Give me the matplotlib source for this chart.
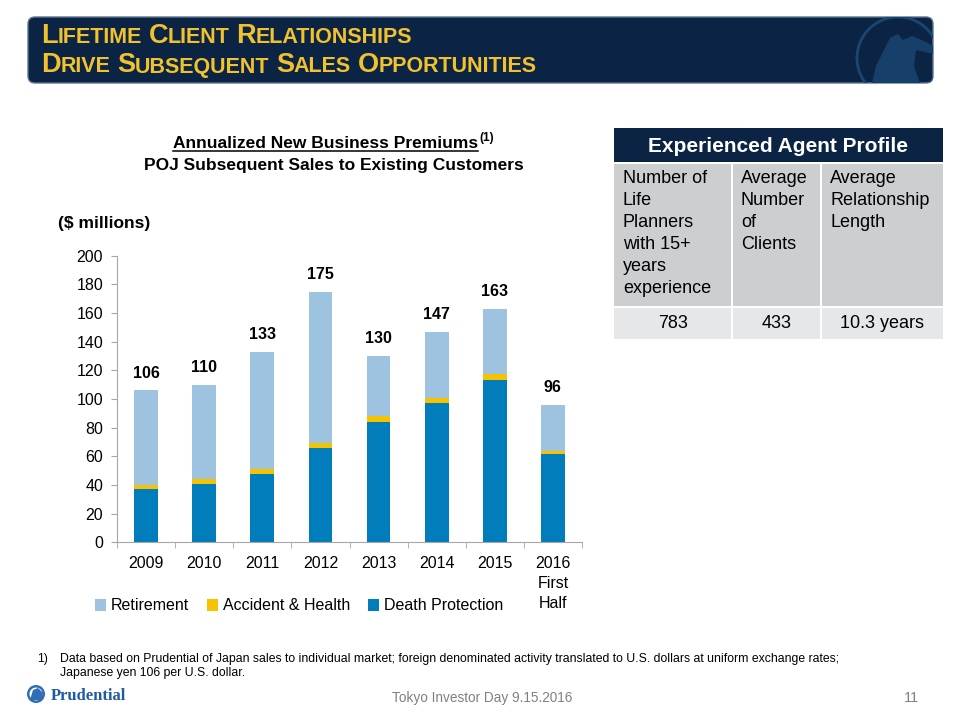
import matplotlib
matplotlib.use('Agg')
import matplotlib.pyplot as plt
from matplotlib.patches import FancyBboxPatch, Rectangle, Circle, Polygon
from matplotlib.lines import Line2D
import numpy as np

plt.rcParams['font.family'] = ['Liberation Sans', 'DejaVu Sans']

# chart data ($ millions)
years = ['2009', '2010', '2011', '2012', '2013', '2014', '2015', '2016\nFirst\nHalf']
death_protection = [37, 41, 48, 65.5, 84, 97, 113, 61.5]
accident_health = [3, 3, 3.5, 3.5, 4, 4, 4.5, 2.5]
retirement = [66, 66, 81.5, 106, 42, 46, 45.5, 32]
totals = [106, 110, 133, 175, 130, 147, 163, 96]

# table data
table_title = 'Experienced Agent Profile'
table_headers = ['Number of\nLife\nPlanners\nwith 15+\nyears\nexperience',
                 'Average\nNumber\nof\nClients',
                 'Average\nRelationship\nLength']
table_values = ['783', '433', '10.3 years']

NAVY = '#0B2444'
GOLD = '#F2C12E'
C_RET = '#9DC3E0'
C_AH = '#F7C200'
C_DP = '#007DBA'

W, H = 960, 720
fig = plt.figure(figsize=(9.6, 7.2), dpi=100)


def fx(x):
    return x / W


def fy(y):
    return 1 - y / H


bg = fig.add_axes([0, 0, 1, 1])
bg.set_xlim(0, W)
bg.set_ylim(H, 0)
bg.axis('off')

# header banner
banner = FancyBboxPatch((28, 17), 905, 66, boxstyle='round,pad=0,rounding_size=7',
                        facecolor=NAVY, edgecolor='#5E7590', linewidth=1.0)
bg.add_patch(banner)
ring = Circle((898, 58), 41, facecolor='none', edgecolor='#1A4673', linewidth=2)
bg.add_patch(ring)
ring.set_clip_path(banner)
rock = Polygon([(872, 83), (876, 66), (884, 50), (890, 38), (898, 34), (903, 40),
                (912, 36), (926, 42), (933, 46), (933, 54), (916, 50), (914, 66),
                (920, 83)],
               closed=True, facecolor='#163F69', edgecolor='none')
bg.add_patch(rock)
rock.set_clip_path(banner)

renderer = fig.canvas.get_renderer()


def small_caps(x, y, text, big, small, color):
    for i, word in enumerate(text.split(' ')):
        if i:
            x += small * 1.389 * 0.30
        t = bg.text(x, y, word[0], fontsize=big, fontweight='bold', color=color,
                    va='baseline', ha='left')
        x += t.get_window_extent(renderer).width
        t = bg.text(x, y, word[1:].upper(), fontsize=small, fontweight='bold', color=color,
                    va='baseline', ha='left')
        x += t.get_window_extent(renderer).width


small_caps(41, 43, 'Lifetime Client Relationships', 19.5, 15.5, GOLD)
small_caps(41, 72.5, 'Drive Subsequent Sales Opportunities', 19.5, 15.5, GOLD)

# chart titles
t1 = bg.text(173, 148, 'Annualized New Business Premiums', fontsize=12.5, fontweight='bold',
             va='baseline', ha='left')
ext = t1.get_window_extent(renderer)
bg.text(173 + ext.width + 1, 141, '(1)', fontsize=8.5, fontweight='bold',
        va='baseline', ha='left')
bg.add_line(Line2D([173, 173 + ext.width], [150.5, 150.5], color='black', linewidth=1.1))
bg.text(334, 170, 'POJ Subsequent Sales to Existing Customers', fontsize=12.5,
        fontweight='bold', va='baseline', ha='center')
bg.text(58, 228, '($ millions)', fontsize=12.5, fontweight='bold', va='baseline', ha='left')

# bar chart
ax = fig.add_axes([fx(117), fy(542.3), fx(582) - fx(117), fy(255.7) - fy(542.3)])
x = np.arange(len(years))
bw = 0.41
dp = np.array(death_protection)
ah = np.array(accident_health)
rt = np.array(retirement)
ax.bar(x, dp, bw, color=C_DP, label='Death Protection', zorder=2)
ax.bar(x, ah, bw, bottom=dp, color=C_AH, label='Accident & Health', zorder=2)
ax.bar(x, rt, bw, bottom=dp + ah, color=C_RET, label='Retirement', zorder=2)
for xi, tot in zip(x, totals):
    ax.annotate(str(tot), (xi, tot), xytext=(0, 7), textcoords='offset points',
                ha='center', va='bottom', fontsize=11.5, fontweight='bold')

ax.set_xlim(-0.5, len(years) - 0.5)
ax.set_ylim(0, 200)
ax.set_yticks(range(0, 201, 20))
ax.set_xticks(x)
ax.set_xticklabels(years, fontsize=11.5, linespacing=1.4)
ax.set_xticks(np.arange(-0.5, len(years), 1), minor=True)
ax.tick_params(axis='x', which='major', length=0, pad=10)
ax.tick_params(axis='x', which='minor', length=4, color='#A6A6A6', direction='out')
ax.tick_params(axis='y', length=4, color='#A6A6A6', labelsize=11.5, pad=6)
for side in ['top', 'right']:
    ax.spines[side].set_visible(False)
for side in ['left', 'bottom']:
    ax.spines[side].set_color('#A6A6A6')

handles, labels = ax.get_legend_handles_labels()
order = [2, 1, 0]
fig.legend([handles[i] for i in order], [labels[i] for i in order],
           loc='center left', bbox_to_anchor=(fx(95), fy(606)), ncol=3, frameon=False,
           fontsize=11.5, handlelength=0.7, handleheight=0.7, handletextpad=0.3,
           columnspacing=1.1, borderaxespad=0, borderpad=0)

# agent profile table
cols = [614, 732, 821, 943]
bg.add_patch(Rectangle((614, 128), 329, 34, facecolor=NAVY, edgecolor='none'))
bg.text((614 + 943) / 2, 146, table_title, fontsize=15, fontweight='bold', color='white',
        ha='center', va='center')
for i in range(3):
    x0, x1 = cols[i] + 1, cols[i + 1] - 1
    if i == 0:
        x0 = cols[0]
    if i == 2:
        x1 = cols[3]
    bg.add_patch(Rectangle((x0, 164), x1 - x0, 142, facecolor='#CDCED0', edgecolor='none'))
    bg.add_patch(Rectangle((x0, 308), x1 - x0, 31, facecolor='#E6E7E9', edgecolor='none'))
    bg.text(cols[i] + 9, 170, table_headers[i], fontsize=13, ha='left', va='top',
            linespacing=1.38)
    bg.text((cols[i] + cols[i + 1]) / 2, 324, table_values[i], fontsize=13,
            ha='center', va='center')

# footnote and footer
bg.text(37, 662, '1)', fontsize=8.8, va='baseline')
bg.text(60, 662, 'Data based on Prudential of Japan sales to individual market; foreign denominated '
        'activity translated to U.S. dollars at uniform exchange rates;', fontsize=8.8,
        va='baseline')
bg.text(60, 676, 'Japanese yen 106 per U.S. dollar.', fontsize=8.8, va='baseline')
bg.text(482, 702, 'Tokyo Investor Day 9.15.2016', fontsize=9.8, color='#808080',
        ha='center', va='baseline')
bg.text(919, 702, '11', fontsize=10.5, color='#808080', ha='right', va='baseline')
bg.add_patch(Circle((36, 694), 9, facecolor='#2F6DB5', edgecolor='none'))
bg.add_patch(Circle((36, 694), 6.5, facecolor='white', edgecolor='none'))
bg.add_patch(Polygon([(30, 700), (33, 690), (38, 688), (43, 693), (42, 700)],
                     facecolor='#2F6DB5', edgecolor='none'))
bg.text(51, 700, 'Prudential', fontsize=12, fontweight='bold', color='#1F5AA6',
        family='Liberation Serif', va='baseline')

fig.savefig('out.png', dpi=100)
